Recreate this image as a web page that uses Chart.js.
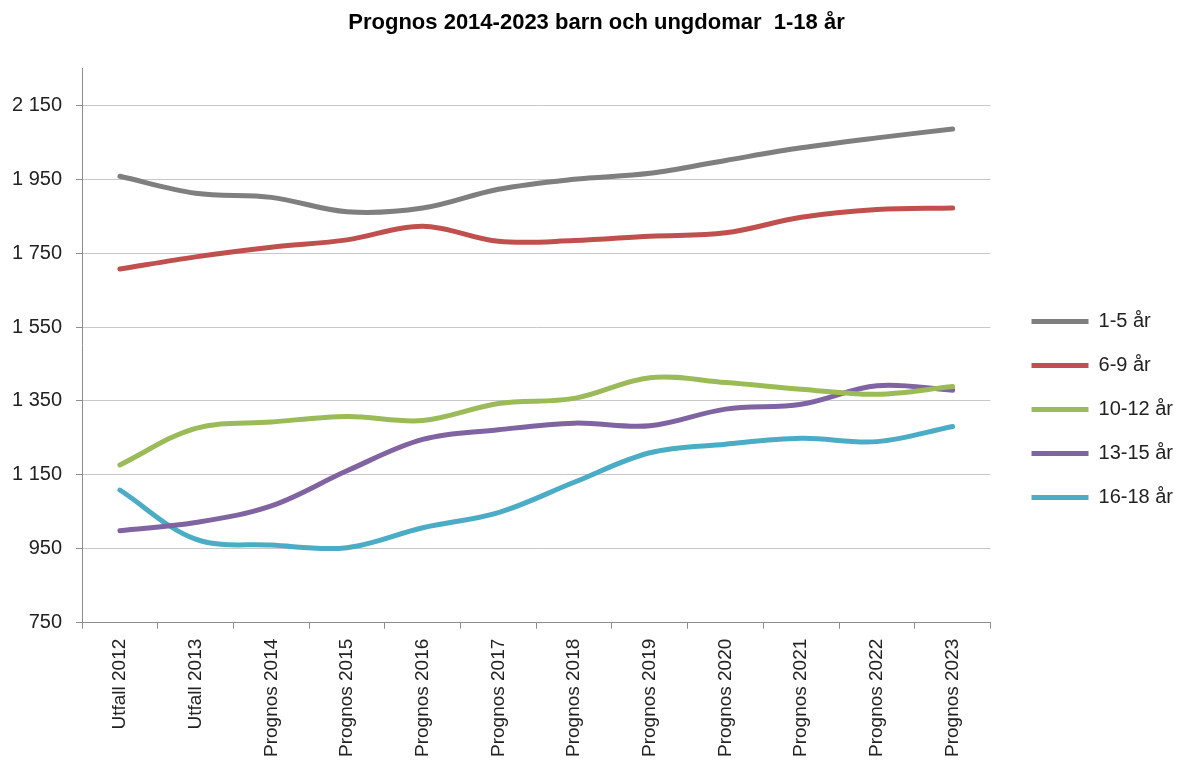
<!DOCTYPE html>
<html>
<head>
<meta charset="utf-8">
<script src="https://cdn.jsdelivr.net/npm/chart.js@4/dist/chart.umd.min.js"></script>
<style>
  html, body { margin: 0; padding: 0; background: #fff; }
  #wrap { width: 1181px; height: 771px; }
</style>
</head>
<body>
<div id="wrap"><canvas id="chart" width="1181" height="771"></canvas></div>
<script>
const labels = ['Utfall 2012', 'Utfall 2013', 'Prognos 2014', 'Prognos 2015', 'Prognos 2016', 'Prognos 2017',
                'Prognos 2018', 'Prognos 2019', 'Prognos 2020', 'Prognos 2021', 'Prognos 2022', 'Prognos 2023'];
const age1to5   = [1958, 1912, 1901, 1862, 1872, 1923, 1950, 1966, 2001, 2035, 2062, 2086];
const age6to9   = [1707, 1740, 1766, 1786, 1823, 1782, 1784, 1796, 1805, 1847, 1868, 1872];
const age10to12 = [1177, 1276, 1293, 1308, 1297, 1343, 1357, 1413, 1400, 1382, 1368, 1389];
const age13to15 = [999, 1021, 1066, 1161, 1246, 1272, 1290, 1283, 1328, 1341, 1391, 1379];
const age16to18 = [1109, 976, 960, 953, 1007, 1048, 1130, 1210, 1233, 1249, 1240, 1281];
const yTicks = [750, 950, 1150, 1350, 1550, 1750, 1950, 2150];

const font = "'Liberation Sans', Arial, sans-serif";

function series(label, data, color) {
  return {
    label, data,
    borderColor: color, backgroundColor: color,
    borderWidth: 5, borderCapStyle: 'round', borderJoinStyle: 'round',
    pointRadius: 0, tension: 0.35, fill: false
  };
}

// extra room between plot and legend, legend items lower, title nudged right
const legendGap = {
  id: 'legendGap',
  afterInit(chart) {
    const lg = chart.legend;
    const fit = lg.fit.bind(lg);
    lg.fit = function () { fit(); this.width += 17; };
  },
  afterLayout(chart) {
    chart.legend.left += 17;
    chart.legend.top += 52;
    chart.titleBlock.left += 12;
  }
};

new Chart(document.getElementById('chart'), {
  type: 'line',
  data: {
    labels,
    datasets: [
      series('1-5 år', age1to5, '#7f7f7f'),
      series('6-9 år', age6to9, '#c0504d'),
      series('10-12 år', age10to12, '#9bbb59'),
      series('13-15 år', age13to15, '#8064a2'),
      series('16-18 år', age16to18, '#4bacc6')
    ]
  },
  plugins: [legendGap],
  options: {
    responsive: false,
    animation: false,
    layout: { padding: { left: -2, right: -2, top: 0, bottom: 4 } },
    plugins: {
      title: {
        display: true,
        text: 'Prognos 2014-2023 barn och ungdomar  1-18 år',
        color: '#000',
        font: { family: font, size: 22, weight: 'bold' },
        padding: { top: 10, bottom: 32 }
      },
      legend: {
        position: 'right',
        labels: {
          usePointStyle: true,
          pointStyle: 'line',
          pointStyleWidth: 57,
          padding: 24,
          color: '#222',
          font: { family: font, size: 20 }
        }
      },
      tooltip: { enabled: false }
    },
    scales: {
      x: {
        offset: true,
        grid: { display: true, drawOnChartArea: false, offset: true, tickLength: 6, color: '#8c8c8c' },
        border: { color: '#8c8c8c', width: 1 },
        ticks: {
          minRotation: 90, maxRotation: 90, autoSkip: false, padding: 10,
          color: '#222', font: { family: font, size: 19 }
        }
      },
      y: {
        min: 750, max: 2250,
        afterBuildTicks(scale) { scale.ticks = yTicks.map(v => ({ value: v })); },
        grid: { color: '#c8c8c8', lineWidth: 1, tickLength: 6, tickColor: '#8c8c8c' },
        border: { color: '#8c8c8c', width: 1 },
        ticks: {
          padding: 14, color: '#222', font: { family: font, size: 20 },
          callback: v => String(v).replace(/\B(?=(\d{3})+(?!\d))/g, ' ')
        }
      }
    }
  }
});
</script>
</body>
</html>
